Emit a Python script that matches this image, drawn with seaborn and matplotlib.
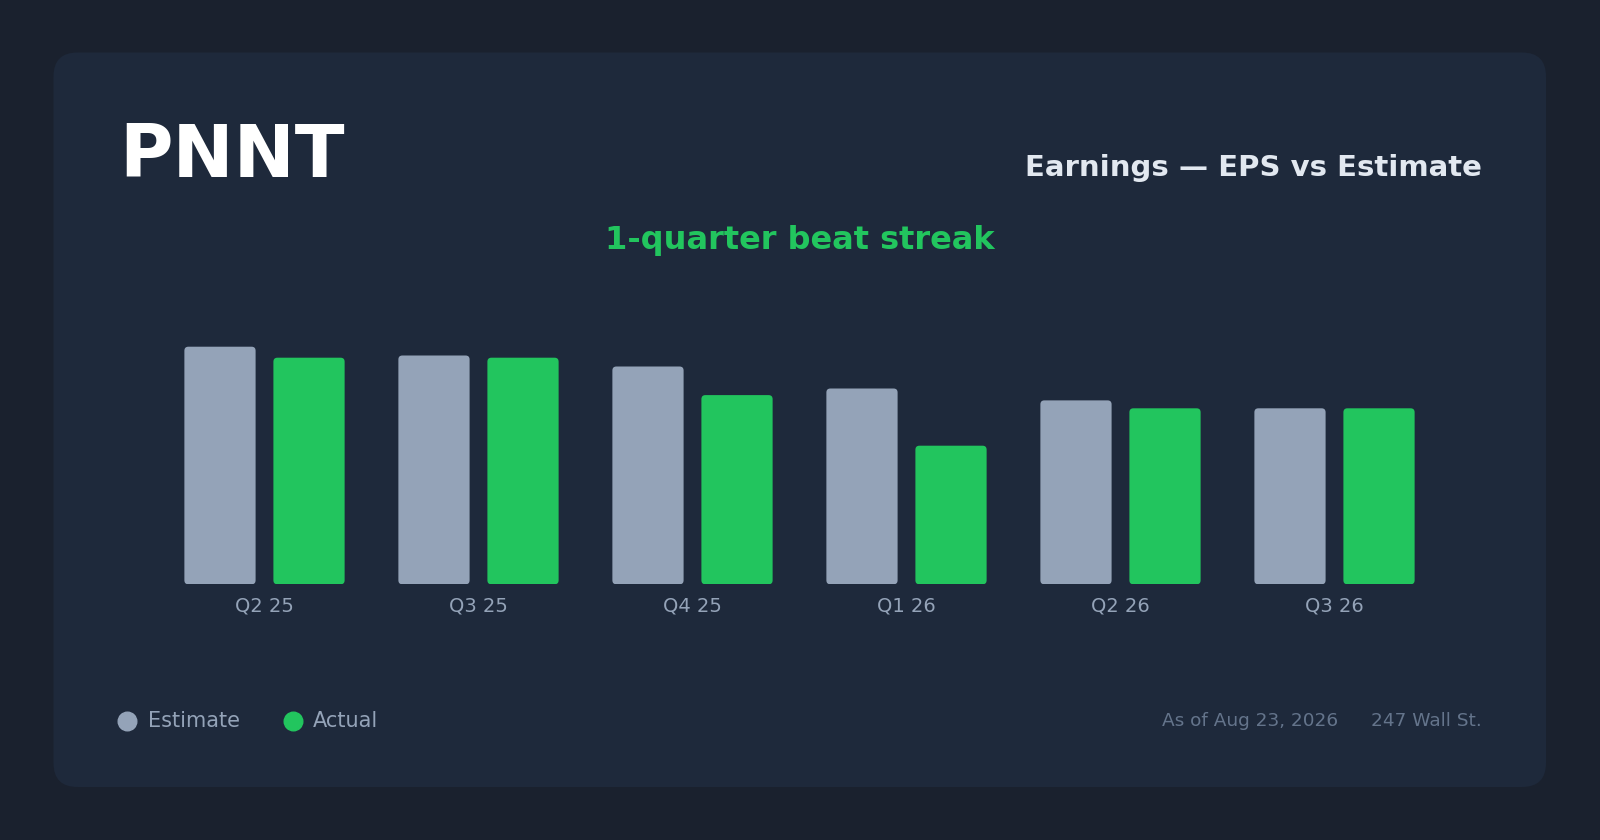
import matplotlib
matplotlib.use("Agg")
import matplotlib.pyplot as plt
from matplotlib.patches import FancyBboxPatch
from matplotlib.lines import Line2D
import pandas as pd
import seaborn as sns

# data
quarters = ["Q2 25", "Q3 25", "Q4 25", "Q1 26", "Q2 26", "Q3 26"]
estimate = [0.54, 0.52, 0.495, 0.445, 0.418, 0.40]
actual = [0.515, 0.515, 0.43, 0.315, 0.40, 0.40]
series_names = ["Estimate", "Actual"]

ticker = "PNNT"
chart_title = "Earnings \u2014 EPS vs Estimate"
streak_text = "1-quarter beat streak"
as_of = "As of Aug 23, 2026"
source = "247 Wall St."

# colours
bg_outer = "#1a212e"
bg_card = "#1e293b"
col_est = "#94a3b8"
col_act = "#22c55e"
palette = {"Estimate": col_est, "Actual": col_act}

df = pd.DataFrame({
    "quarter": quarters * 2,
    "series": [series_names[0]] * len(quarters) + [series_names[1]] * len(quarters),
    "eps": estimate + actual,
})

W, H = 1600, 840
fig = plt.figure(figsize=(W / 100, H / 100), dpi=100, facecolor=bg_outer)

# card (behind the axes)
card = FancyBboxPatch((53.5 / W, 1 - 787 / H), 1492.5 / W, 734.5 / H,
                      boxstyle="round,pad=0,rounding_size=%f" % (24 / W),
                      mutation_aspect=W / H, transform=fig.transFigure,
                      facecolor=bg_card, edgecolor="none", zorder=-10)
fig.patches.append(card)

ax = fig.add_axes([157.5 / W, 1 - 584.3 / H, 1284 / W, 286 / H])
ax.set_facecolor("none")
ax.set_zorder(1)

sns.barplot(data=df, x="quarter", y="eps", hue="series", palette=palette,
            hue_order=series_names, width=0.832, gap=0.2, legend=False,
            saturation=1, ax=ax)

ax.set_xlim(-0.5, len(quarters) - 0.5)
ax.set_ylim(0, 0.65)
ax.set_xlabel("")
ax.set_ylabel("")
ax.set_yticks([])
for s in ax.spines.values():
    s.set_visible(False)
ax.tick_params(axis="x", length=0, pad=8.8, labelsize=14, labelcolor=col_est)

# rounded bars
fig.canvas.draw()
px_x = ax.transData.transform((1, 0))[0] - ax.transData.transform((0, 0))[0]
px_y = ax.transData.transform((0, 1))[1] - ax.transData.transform((0, 0))[1]
radius = 4 / px_x
for p in list(ax.patches):
    x0, y0 = p.get_x(), p.get_y()
    w, h = p.get_width(), p.get_height()
    rb = FancyBboxPatch((x0, y0), w, h,
                        boxstyle="round,pad=0,rounding_size=%f" % radius,
                        mutation_aspect=px_x / px_y,
                        facecolor=p.get_facecolor(), edgecolor="none")
    p.remove()
    ax.add_patch(rb)

# header texts
fig.text(119 / W, 1 - 177 / H, ticker, fontsize=52.5, fontweight="bold",
         color="white", ha="left", va="baseline")
fig.text(1482 / W, 1 - 176 / H, chart_title, fontsize=21, fontweight="bold",
         color="#e2e8f0", ha="right", va="baseline")
fig.text(0.5, 1 - 249 / H, streak_text, fontsize=23, fontweight="bold",
         color=col_act, ha="center", va="baseline")

# legend
for cx, tx, name, c in [(126.7, 147.7, series_names[0], col_est),
                        (293.2, 313.3, series_names[1], col_act)]:
    fig.add_artist(Line2D([cx / W], [1 - 720.5 / H], marker="o", markersize=13.4,
                          color=c, linestyle="none", transform=fig.transFigure))
    fig.text(tx / W, 1 - 727.3 / H, name, fontsize=15, color=col_est,
             ha="left", va="baseline")

# footer
fig.text(1482 / W, 1 - 726 / H, source, fontsize=13.3, color="#64748b",
         ha="right", va="baseline")
fig.text(1338.3 / W, 1 - 726 / H, as_of, fontsize=13.3, color="#64748b",
         ha="right", va="baseline")

fig.savefig("out.png", dpi=100, facecolor=bg_outer)
